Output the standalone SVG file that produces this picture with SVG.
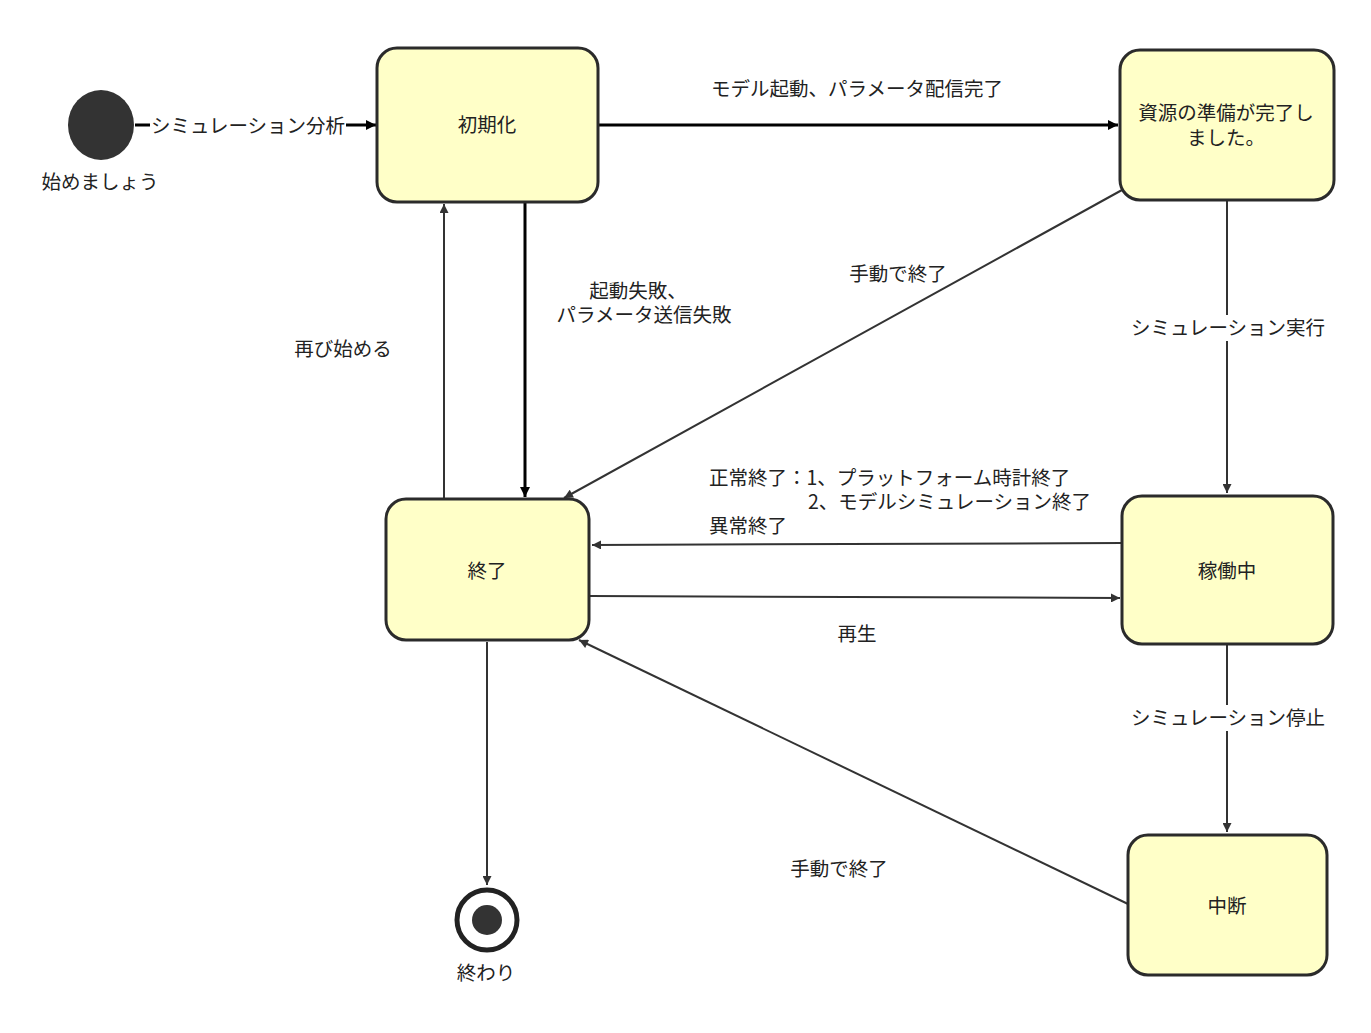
<svg xmlns="http://www.w3.org/2000/svg" width="1371" height="1033" viewBox="0 0 1371 1033">
<style>
text{font-family:"Noto Sans CJK JP","Noto Sans",sans-serif;font-size:19.5px;fill:#222}
.n{fill:#ffffc8;stroke:#2b2b2b;stroke-width:3}
.c{fill:none;stroke:#333;stroke-width:2;marker-end:url(#a)}
.t{stroke-width:3;stroke:#000;marker-end:url(#b)}
.m{text-anchor:middle}
</style>
<defs>
<marker id="a" viewBox="0 0 10 10" refX="10" refY="5" markerWidth="10" markerHeight="9" markerUnits="userSpaceOnUse" orient="auto"><path d="M0,0L10,5L0,10z" fill="#333"/></marker>
<marker id="b" viewBox="0 0 10 10" refX="10" refY="5" markerWidth="12" markerHeight="10" markerUnits="userSpaceOnUse" orient="auto"><path d="M0,0L10,5L0,10z" fill="#000"/></marker>
</defs>
<rect width="1371" height="1033" fill="#fff"/>
<g id="connectors">
<path class="c t" d="M135,125H376"/>
<rect x="150" y="113" width="196" height="26" fill="#fff"/>
<text x="248" y="133" class="m">シミュレーション分析</text>
<path class="c t" d="M598,125H1118"/>
<text x="857" y="96" class="m">モデル起動、パラメータ配信完了</text>
<path class="c t" d="M525,202V497"/>
<text x="638" y="298" class="m">起動失敗、</text>
<text x="644" y="322" class="m">パラメータ送信失敗</text>
<path class="c" d="M444,498V204"/>
<text x="343" y="356" class="m">再び始める</text>
<path class="c" d="M1122,190L564,498"/>
<text x="898" y="281" class="m">手動で終了</text>
<path class="c" d="M1227,200V493"/>
<rect x="1130" y="315" width="196" height="26" fill="#fff"/>
<text x="1228" y="335" class="m">シミュレーション実行</text>
<path class="c" d="M1122,543L592,545"/>
<text x="709" y="485">正常終了：1、プラットフォーム時計終了</text>
<text x="808" y="509">2、モデルシミュレーション終了</text>
<text x="709" y="533">異常終了</text>
<path class="c" d="M590,596L1120,598"/>
<text x="857" y="641" class="m">再生</text>
<path class="c" d="M1227,645V832"/>
<rect x="1130" y="705" width="196" height="26" fill="#fff"/>
<text x="1228" y="725" class="m">シミュレーション停止</text>
<path class="c" d="M1128,904L579,640"/>
<text x="839" y="876" class="m">手動で終了</text>
<path class="c" d="M487,642V885"/>
</g>
<g id="start"><ellipse cx="101" cy="125" rx="33" ry="35" fill="#333"/><text x="100" y="189" class="m">始めましょう</text></g>
<g id="init"><rect class="n" x="377" y="48" width="221" height="154" rx="20"/><text x="487" y="132" class="m">初期化</text></g>
<g id="ready"><rect class="n" x="1120" y="50" width="214" height="150" rx="20"/><text x="1226" y="120" class="m">資源の準備が完了し</text><text x="1226" y="145" class="m">ました。</text></g>
<g id="end"><rect class="n" x="386" y="499" width="203" height="141" rx="20"/><text x="487" y="578" class="m">終了</text></g>
<g id="running"><rect class="n" x="1122" y="496" width="211" height="148" rx="20"/><text x="1227" y="578" class="m">稼働中</text></g>
<g id="pause"><rect class="n" x="1128" y="835" width="199" height="140" rx="20"/><text x="1227" y="913" class="m">中断</text></g>
<g id="final"><circle cx="487" cy="920" r="30" fill="#fff" stroke="#222" stroke-width="5"/><circle cx="487" cy="920" r="15" fill="#333"/><text x="486" y="980" class="m">終わり</text></g>
</svg>
